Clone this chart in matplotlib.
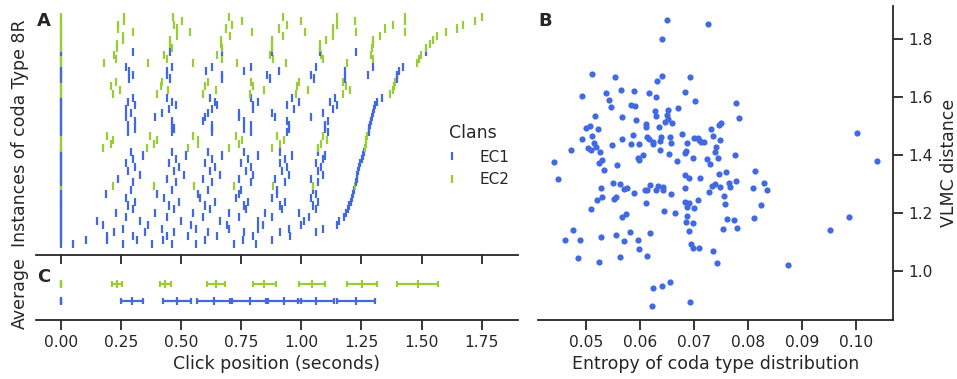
import matplotlib
matplotlib.use("Agg")
import matplotlib.pyplot as plt
from matplotlib.lines import Line2D
from matplotlib.ticker import FormatStrFormatter

# click times (s) of each Type 8R coda, bottom row first
clicks = [
    [0, 0.051, 0.257, 0.377, 0.46, 0.562, 0.72, 0.81],
    [0, 0.103, 0.193, 0.317, 0.423, 0.60, 0.758, 0.876],
    [0, 0.19, 0.30, 0.44, 0.53, 0.648, 0.80, 0.953],
    [0, 0.22, 0.35, 0.47, 0.61, 0.76, 0.91, 1.06],
    [0, 0.26, 0.42, 0.56, 0.70, 0.82, 0.95, 1.089],
    [0, 0.176, 0.36, 0.54, 0.69, 0.84, 1.00, 1.148],
    [0, 0.148, 0.33, 0.50, 0.66, 0.82, 1.01, 1.158],
    [0, 0.27, 0.44, 0.59, 0.74, 0.88, 1.03, 1.176],
    [0, 0.23, 0.39, 0.55, 0.70, 0.85, 0.99, 1.185],
    [0, 0.30, 0.47, 0.62, 0.77, 0.92, 1.06, 1.196],
    [0, 0.28, 0.45, 0.60, 0.76, 0.91, 1.05, 1.20],
    [0, 0.31, 0.49, 0.64, 0.78, 0.93, 1.07, 1.206],
    [0, 0.27, 0.43, 0.58, 0.73, 0.88, 1.04, 1.21],
    [0, 0.187, 0.40, 0.57, 0.74, 0.90, 1.06, 1.215],
    [0, 0.29, 0.46, 0.61, 0.75, 0.90, 1.05, 1.22],
    [0, 0.218, 0.388, 0.553, 0.721, 0.883, 1.05, 1.224],
    [0, 0.30, 0.48, 0.63, 0.79, 0.93, 1.07, 1.228],
    [0, 0.236, 0.44, 0.59, 0.74, 0.89, 1.04, 1.23],
    [0, 0.33, 0.51, 0.66, 0.80, 0.95, 1.09, 1.233],
    [0, 0.28, 0.47, 0.62, 0.77, 0.92, 1.07, 1.236],
    [0, 0.31, 0.49, 0.64, 0.79, 0.94, 1.08, 1.24],
    [0, 0.27, 0.45, 0.60, 0.75, 0.91, 1.06, 1.246],
    [0, 0.30, 0.48, 0.63, 0.78, 0.93, 1.09, 1.251],
    [0, 0.34, 0.52, 0.67, 0.82, 0.96, 1.10, 1.257],
    [0, 0.29, 0.46, 0.61, 0.76, 0.91, 1.07, 1.262],
    [0, 0.176, 0.356, 0.53, 0.70, 0.876, 1.068, 1.265],
    [0, 0.208, 0.388, 0.571, 0.742, 0.911, 1.082, 1.268],
    [0, 0.218, 0.398, 0.571, 0.752, 0.929, 1.105, 1.27],
    [0, 0.19, 0.37, 0.55, 0.73, 0.90, 1.09, 1.275],
    [0, 0.28, 0.46, 0.63, 0.79, 0.94, 1.11, 1.28],
    [0, 0.31, 0.47, 0.63, 0.76, 0.95, 1.10, 1.283],
    [0, 0.28, 0.46, 0.63, 0.79, 0.95, 1.10, 1.287],
    [0, 0.31, 0.46, 0.59, 0.76, 0.94, 1.11, 1.29],
    [0, 0.27, 0.39, 0.60, 0.74, 0.89, 1.04, 1.295],
    [0, 0.29, 0.42, 0.61, 0.74, 0.88, 1.09, 1.299],
    [0, 0.27, 0.45, 0.63, 0.80, 0.97, 1.13, 1.302],
    [0, 0.31, 0.48, 0.65, 0.80, 0.94, 1.15, 1.306],
    [0, 0.28, 0.46, 0.64, 0.82, 0.99, 1.12, 1.315],
    [0, 0.30, 0.44, 0.62, 0.79, 0.96, 1.14, 1.334],
    [0, 0.218, 0.398, 0.592, 0.786, 0.978, 1.174, 1.37],
    [0, 0.245, 0.447, 0.645, 0.844, 1.029, 1.202, 1.38],
    [0, 0.208, 0.416, 0.599, 0.80, 0.98, 1.184, 1.385],
    [0, 0.227, 0.42, 0.613, 0.79, 0.99, 1.174, 1.39],
    [0, 0.283, 0.453, 0.672, 0.869, 1.052, 1.181, 1.397],
    [0, 0.30, 0.44, 0.672, 0.858, 1.039, 1.278, 1.40],
    [0, 0.283, 0.44, 0.603, 0.761, 0.908, 1.181, 1.406],
    [0, 0.27, 0.46, 0.63, 0.79, 1.06, 1.30, 1.424],
    [0, 0.18, 0.363, 0.55, 0.731, 0.936, 1.188, 1.48],
    [0, 0.229, 0.44, 0.668, 0.883, 1.091, 1.30, 1.49],
    [0, 0.22, 0.43, 0.65, 0.87, 1.08, 1.29, 1.496],
    [0, 0.30, 0.453, 0.668, 0.876, 1.077, 1.227, 1.52],
    [0, 0.232, 0.46, 0.672, 0.876, 1.077, 1.292, 1.518],
    [0, 0.232, 0.453, 0.664, 0.88, 1.077, 1.30, 1.535],
    [0, 0.259, 0.453, 0.664, 0.876, 1.102, 1.30, 1.546],
    [0, 0.259, 0.481, 0.703, 0.925, 1.13, 1.327, 1.563],
    [0, 0.30, 0.537, 0.793, 1.015, 1.227, 1.431, 1.60],
    [0, 0.238, 0.481, 0.686, 0.908, 1.13, 1.348, 1.649],
    [0, 0.238, 0.47, 0.713, 0.939, 1.149, 1.382, 1.671],
    [0, 0.262, 0.502, 0.752, 0.998, 1.223, 1.431, 1.722],
    [0, 0.262, 0.464, 0.699, 0.922, 1.149, 1.431, 1.753],
]
clans = (["EC1"] * 15 + ["EC2"] + ["EC1"] * 9 + ["EC2"] * 4 + ["EC1"] * 10
         + ["EC2"] * 4 + ["EC1"] * 4 + ["EC2"] * 3 + ["EC1"] + ["EC2"] * 9)

# mean click position and spread per clan
ec1_mean = [0, 0.294, 0.481, 0.636, 0.786, 0.926, 1.061, 1.227]
ec1_err = [0, 0.046, 0.058, 0.069, 0.074, 0.073, 0.076, 0.080]
ec2_mean = [0, 0.234, 0.434, 0.645, 0.846, 1.045, 1.251, 1.484]
ec2_err = [0, 0.020, 0.023, 0.038, 0.047, 0.055, 0.062, 0.084]

# entropy vs VLMC distance
entropy = [
    0.0650, 0.0726, 0.0641, 0.0511, 0.0554, 0.0641, 0.0692, 0.0631, 0.0492, 0.0538,
    0.0565, 0.0590, 0.0616, 0.0630, 0.0683, 0.0543, 0.0702, 0.0546, 0.0583, 0.0591,
    0.0628, 0.0652, 0.0670, 0.0777, 0.0517, 0.0567, 0.0593, 0.0630, 0.0650, 0.0652,
    0.0646, 0.0659, 0.0783, 0.0507, 0.0500, 0.0523, 0.0612, 0.0612, 0.0636, 0.0750,
    0.0747, 0.0732, 0.0493, 0.0512, 0.0567, 0.0587, 0.0613, 0.0616, 0.0624, 0.0637,
    0.0639, 0.0656, 0.0678, 0.0687, 0.0700, 0.0707, 0.0710, 0.0714, 0.0719, 0.0736,
    0.0748, 0.0472, 0.0504, 0.0509, 0.0515, 0.0518, 0.0549, 0.0584, 0.0598, 0.0625,
    0.0638, 0.0657, 0.0683, 0.0685, 0.0740, 0.0739, 0.0441, 0.0527, 0.0525, 0.0529,
    0.0557, 0.0605, 0.0597, 0.0599, 0.0654, 0.0669, 0.0699, 0.0725, 0.0730, 0.0745,
    0.0776, 0.0533, 0.0448, 0.0684, 0.0691, 0.0711, 0.0746, 0.0760, 0.0813, 0.0550,
    0.0528, 0.0563, 0.0570, 0.0577, 0.0589, 0.0609, 0.0613, 0.0619, 0.0629, 0.0634,
    0.0642, 0.0642, 0.0658, 0.0684, 0.0728, 0.0734, 0.0739, 0.0748, 0.0764, 0.0767,
    0.0777, 0.0756, 0.0809, 0.0829, 0.0835, 0.0520, 0.0530, 0.0552, 0.0555, 0.0612,
    0.0683, 0.0691, 0.0707, 0.0757, 0.0824, 0.0510, 0.0645, 0.0665, 0.0687, 0.0701,
    0.0575, 0.0566, 0.0687, 0.0761, 0.0774, 0.0811, 0.0986, 0.0685, 0.0698, 0.0779,
    0.0753, 0.0951, 0.0477, 0.0581, 0.0618, 0.0691, 0.0528, 0.0556, 0.0462, 0.0490,
    0.0570, 0.0596, 0.0695, 0.0699, 0.0710, 0.0599, 0.0735, 0.0563, 0.0613, 0.0485,
    0.0525, 0.0743, 0.0874, 0.1001, 0.1039, 0.0655, 0.0641, 0.0625, 0.0623, 0.0692,
]
vlmc = [
    1.865, 1.853, 1.800, 1.681, 1.671, 1.674, 1.671, 1.654, 1.605, 1.613,
    1.625, 1.622, 1.613, 1.599, 1.617, 1.589, 1.588, 1.565, 1.573, 1.569,
    1.553, 1.557, 1.564, 1.579, 1.535, 1.531, 1.520, 1.533, 1.538, 1.525,
    1.514, 1.510, 1.528, 1.500, 1.493, 1.491, 1.506, 1.498, 1.496, 1.512,
    1.505, 1.489, 1.455, 1.465, 1.456, 1.468, 1.461, 1.454, 1.446, 1.448,
    1.463, 1.462, 1.473, 1.443, 1.459, 1.460, 1.452, 1.445, 1.446, 1.466,
    1.450, 1.418, 1.423, 1.416, 1.440, 1.429, 1.436, 1.437, 1.438, 1.438,
    1.418, 1.440, 1.406, 1.413, 1.429, 1.410, 1.376, 1.410, 1.371, 1.383,
    1.367, 1.400, 1.390, 1.383, 1.402, 1.379, 1.388, 1.387, 1.370, 1.388,
    1.399, 1.348, 1.317, 1.331, 1.319, 1.319, 1.335, 1.342, 1.346, 1.304,
    1.287, 1.299, 1.284, 1.286, 1.267, 1.280, 1.280, 1.297, 1.280, 1.293,
    1.288, 1.278, 1.265, 1.286, 1.271, 1.294, 1.300, 1.290, 1.304, 1.290,
    1.310, 1.258, 1.285, 1.302, 1.279, 1.243, 1.256, 1.247, 1.255, 1.235,
    1.236, 1.233, 1.243, 1.229, 1.228, 1.212, 1.206, 1.198, 1.221, 1.217,
    1.195, 1.184, 1.189, 1.178, 1.175, 1.182, 1.184, 1.167, 1.164, 1.149,
    1.143, 1.139, 1.139, 1.133, 1.130, 1.138, 1.118, 1.124, 1.105, 1.105,
    1.104, 1.105, 1.093, 1.077, 1.077, 1.074, 1.069, 1.046, 1.051, 1.043,
    1.031, 1.027, 1.018, 1.477, 1.380, 0.961, 0.948, 0.941, 0.879, 0.893,
]

clan_colors = {"EC1": "#4169e1", "EC2": "#9acd32"}
ink = "#262626"

plt.rcParams.update({
    "font.family": "DejaVu Sans",
    "axes.edgecolor": ink,
    "axes.linewidth": 1.3,
    "xtick.color": ink,
    "ytick.color": ink,
    "xtick.labelsize": 11.2,
    "ytick.labelsize": 11.2,
    "xtick.major.size": 7,
    "ytick.major.size": 7,
    "xtick.major.width": 1.3,
    "ytick.major.width": 1.3,
    "text.color": ink,
    "axes.labelcolor": ink,
})

fig = plt.figure(figsize=(9.57, 3.79), dpi=100)
axA = fig.add_axes([0.0376, 0.3272, 0.5033, 0.6464])
axC = fig.add_axes([0.0376, 0.1557, 0.5033, 0.1478])
axB = fig.add_axes([0.5619, 0.1557, 0.3716, 0.8285])

xticks = [0.0, 0.25, 0.5, 0.75, 1.0, 1.25, 1.5, 1.75]

# A: raster of click positions
axA.eventplot(clicks, lineoffsets=list(range(len(clicks))), linelengths=2.1,
              linewidths=1.6, colors=[clan_colors[c] for c in clans])
axA.set_xlim(-0.104, 1.90)
axA.set_ylim(-2.86, 60.8)
axA.set_xticks(xticks)
axA.tick_params(axis="x", labelbottom=False)
axA.set_yticks([])
for s in ["left", "top", "right"]:
    axA.spines[s].set_visible(False)

handles = [Line2D([], [], color=clan_colors[c], marker="|", linestyle="None",
                  markersize=6, markeredgewidth=1.6) for c in ["EC1", "EC2"]]
axA.legend(handles, ["EC1", "EC2"], title="Clans", frameon=False,
           loc="center left", bbox_to_anchor=(0.45, 0.5897),
           bbox_transform=fig.transFigure, borderaxespad=0,
           fontsize=11, title_fontsize=12.5)

# C: average click positions
axC.errorbar(ec2_mean, [1] * len(ec2_mean), xerr=ec2_err, fmt="|",
             color=clan_colors["EC2"], markersize=6, mew=1.6, elinewidth=1.6,
             capsize=2.5, capthick=1.6)
axC.errorbar(ec1_mean, [0] * len(ec1_mean), xerr=ec1_err, fmt="|",
             color=clan_colors["EC1"], markersize=6, mew=1.6, elinewidth=1.6,
             capsize=2.5, capthick=1.6)
axC.set_xlim(-0.104, 1.90)
axC.set_ylim(-1.156, 2.197)
axC.set_xticks(xticks)
axC.xaxis.set_major_formatter(FormatStrFormatter("%.2f"))
axC.set_yticks([])
for s in ["left", "top", "right"]:
    axC.spines[s].set_visible(False)
axC.set_xlabel("Click position (seconds)", fontsize=12.5)

# B: entropy vs distance
axB.scatter(entropy, vlmc, s=20, color=clan_colors["EC1"], linewidths=0)
axB.set_xlim(0.0411, 0.1069)
axB.set_ylim(0.8295, 1.915)
axB.set_xticks([0.05, 0.06, 0.07, 0.08, 0.09, 0.10])
axB.xaxis.set_major_formatter(FormatStrFormatter("%.2f"))
axB.set_yticks([1.0, 1.2, 1.4, 1.6, 1.8])
axB.yaxis.set_major_formatter(FormatStrFormatter("%.1f"))
axB.yaxis.tick_right()
for s in ["left", "top"]:
    axB.spines[s].set_visible(False)
axB.set_xlabel("Entropy of coda type distribution", fontsize=12.5)

fig.text(20 / 957, 1 - 133.5 / 379, "Instances of coda Type 8R", rotation=90,
         ha="center", va="center", fontsize=12.5)
fig.text(20 / 957, 1 - 293 / 379, "Average", rotation=90,
         ha="center", va="center", fontsize=12.5)
fig.text(949 / 957, 1 - 163 / 379, "VLMC distance", rotation=90,
         ha="center", va="center", fontsize=12.5)

for label, x, y in [("A", 37, 12), ("B", 538, 12), ("C", 37, 268)]:
    fig.text(x / 957, 1 - y / 379, label, ha="left", va="top",
             fontsize=13, fontweight="bold")

fig.savefig("out.png", dpi=100)
